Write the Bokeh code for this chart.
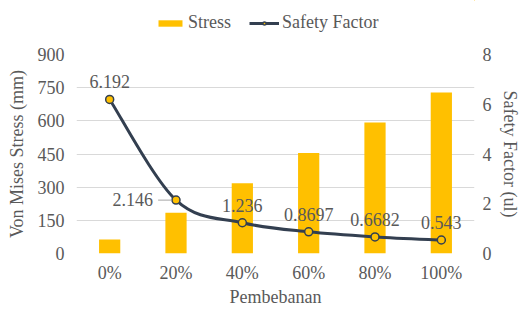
from bokeh.plotting import figure
from bokeh.layouts import column
from bokeh.models import (Range1d, LinearAxis, FixedTicker, ColumnDataSource, LabelSet,
                          Legend, LegendItem)
from bokeh.embed import file_html
from bokeh.resources import INLINE

categories = ["0%", "20%", "40%", "60%", "80%", "100%"]
stress = [63, 184, 318, 454, 592, 728]
safety = [6.192, 2.146, 1.236, 0.8697, 0.6682, 0.543]
safety_labels = ["6.192", "2.146", "1.236", "0.8697", "0.6682", "0.543"]
left_ticks = [0, 150, 300, 450, 600, 750, 900]
right_ticks = [0, 2, 4, 6, 8]

FONT = "Liberation Serif"
TXT = "#595959"
BAR = "#FFC000"
LINE = "#333F50"
GRID = "#D9D9D9"
FS = "18px"

xs = list(range(len(categories)))

# ---- legend strip (its own small figure above the chart; its frame aligns with the chart's) ----
lf = figure(width=524, height=40, output_backend="svg", toolbar_location=None,
            x_range=Range1d(-10, -9), y_range=Range1d(-10, -9),
            x_axis_type=None, y_axis_type=None,
            min_border_left=0, min_border_right=0, min_border_top=0, min_border_bottom=0)
lf.outline_line_color = None
lf.xgrid.grid_line_color = None
lf.ygrid.grid_line_color = None
# same series, drawn outside this strip's visible ranges: they only feed the legend glyphs
lg_bar = lf.vbar(x=xs, top=stress, width=0.3, fill_color=BAR, line_color=None)
lg_line = lf.line(x=xs, y=safety, line_color=LINE, line_width=3)
lg_pt = lf.scatter(x=xs, y=safety, marker="circle", size=7, fill_color=BAR,
                   line_color=LINE, line_width=1.5)
legend = Legend(items=[LegendItem(label="Stress", renderers=[lg_bar]),
                       LegendItem(label="Safety Factor", renderers=[lg_line, lg_pt])],
                orientation="horizontal", location=(79, 7),
                glyph_width=30, glyph_height=8, label_standoff=3, spacing=18,
                padding=0, margin=0, border_line_color=None, background_fill_alpha=0,
                label_text_font=FONT, label_text_font_size=FS, label_text_color=TXT,
                label_height=20)
lf.add_layout(legend, "center")

# ---- main chart ----
p = figure(width=524, height=271, output_backend="svg", toolbar_location=None,
           x_range=Range1d(-0.5, len(categories) - 0.5), y_range=Range1d(0, 900),
           min_border_left=76, min_border_right=50, min_border_top=14, min_border_bottom=58)
p.outline_line_color = None
p.extra_y_ranges = {"sf": Range1d(0, 8)}

p.xaxis.ticker = FixedTicker(ticks=xs)
p.xaxis.major_label_overrides = {i: c for i, c in enumerate(categories)}
p.xaxis.axis_label = "Pembebanan"
p.yaxis.ticker = FixedTicker(ticks=left_ticks)
p.yaxis.axis_label = "Von Mises Stress (mm)"
ra = LinearAxis(y_range_name="sf", ticker=FixedTicker(ticks=right_ticks),
                axis_label="Safety Factor (ul)")
p.add_layout(ra, "right")

for ax in [p.xaxis[0], p.yaxis[0], ra]:
    ax.axis_line_color = None
    ax.major_tick_line_color = None
    ax.minor_tick_line_color = None
    ax.major_tick_out = 0
    ax.major_tick_in = 0
    ax.major_label_text_font = FONT
    ax.major_label_text_font_size = FS
    ax.major_label_text_color = TXT
    ax.axis_label_text_font = FONT
    ax.axis_label_text_font_size = FS
    ax.axis_label_text_font_style = "normal"
    ax.axis_label_text_color = TXT
p.yaxis[0].major_label_standoff = 12
ra.major_label_standoff = 8
p.xaxis[0].major_label_standoff = 9
p.yaxis[0].axis_label_standoff = 8
ra.axis_label_standoff = 5
p.xaxis[0].axis_label_standoff = 1

p.xgrid.grid_line_color = None
p.ygrid.ticker = FixedTicker(ticks=left_ticks)
p.ygrid.grid_line_color = GRID
p.ygrid.grid_line_width = 1

bars = p.vbar(x=xs, top=stress, width=0.32, fill_color=BAR, line_color=None)

# smoothed line: Catmull-Rom converted to Bezier control points
n = len(xs)
def pt(i):
    i = max(0, min(n - 1, i))
    return xs[i], safety[i]
x0, y0, x1, y1, cx0, cy0, cx1, cy1 = [], [], [], [], [], [], [], []
for i in range(n - 1):
    pa, pb = pt(i - 1), pt(i)
    pc, pd = pt(i + 1), pt(i + 2)
    x0.append(pb[0]); y0.append(pb[1]); x1.append(pc[0]); y1.append(pc[1])
    cx0.append(pb[0] + (pc[0] - pa[0]) / 6); cy0.append(pb[1] + (pc[1] - pa[1]) / 6)
    cx1.append(pc[0] - (pd[0] - pb[0]) / 6); cy1.append(pc[1] - (pd[1] - pb[1]) / 6)
p.bezier(x0=x0, y0=y0, x1=x1, y1=y1, cx0=cx0, cy0=cy0, cx1=cx1, cy1=cy1,
         line_color=LINE, line_width=3, y_range_name="sf")
p.scatter(x=xs, y=safety, marker="circle", size=8, fill_color=BAR,
          line_color=LINE, line_width=1.5, y_range_name="sf")

# leader line for the 2.146 label
p.segment(x0=[xs[1] - 0.27], y0=[safety[1]], x1=[xs[1] - 0.06], y1=[safety[1]],
          line_color="#A6A6A6", line_width=1, y_range_name="sf")

above = [i for i in range(n) if i != 1]
src_above = ColumnDataSource(dict(x=[xs[i] for i in above], y=[safety[i] for i in above],
                                  t=[safety_labels[i] for i in above]))
la = LabelSet(x="x", y="y", text="t", source=src_above, y_range_name="sf",
              y_offset=11, text_align="center", text_baseline="bottom",
              text_font=FONT, text_font_size=FS, text_color=TXT)
p.add_layout(la)
src_left = ColumnDataSource(dict(x=[xs[1]], y=[safety[1]], t=[safety_labels[1]]))
ll = LabelSet(x="x", y="y", text="t", source=src_left, y_range_name="sf",
              x_offset=-23, y_offset=1, text_align="right", text_baseline="middle",
              text_font=FONT, text_font_size=FS, text_color=TXT)
p.add_layout(ll)

layout = column(lf, p, spacing=0)
open("out.html", "w").write(file_html(layout, INLINE))
